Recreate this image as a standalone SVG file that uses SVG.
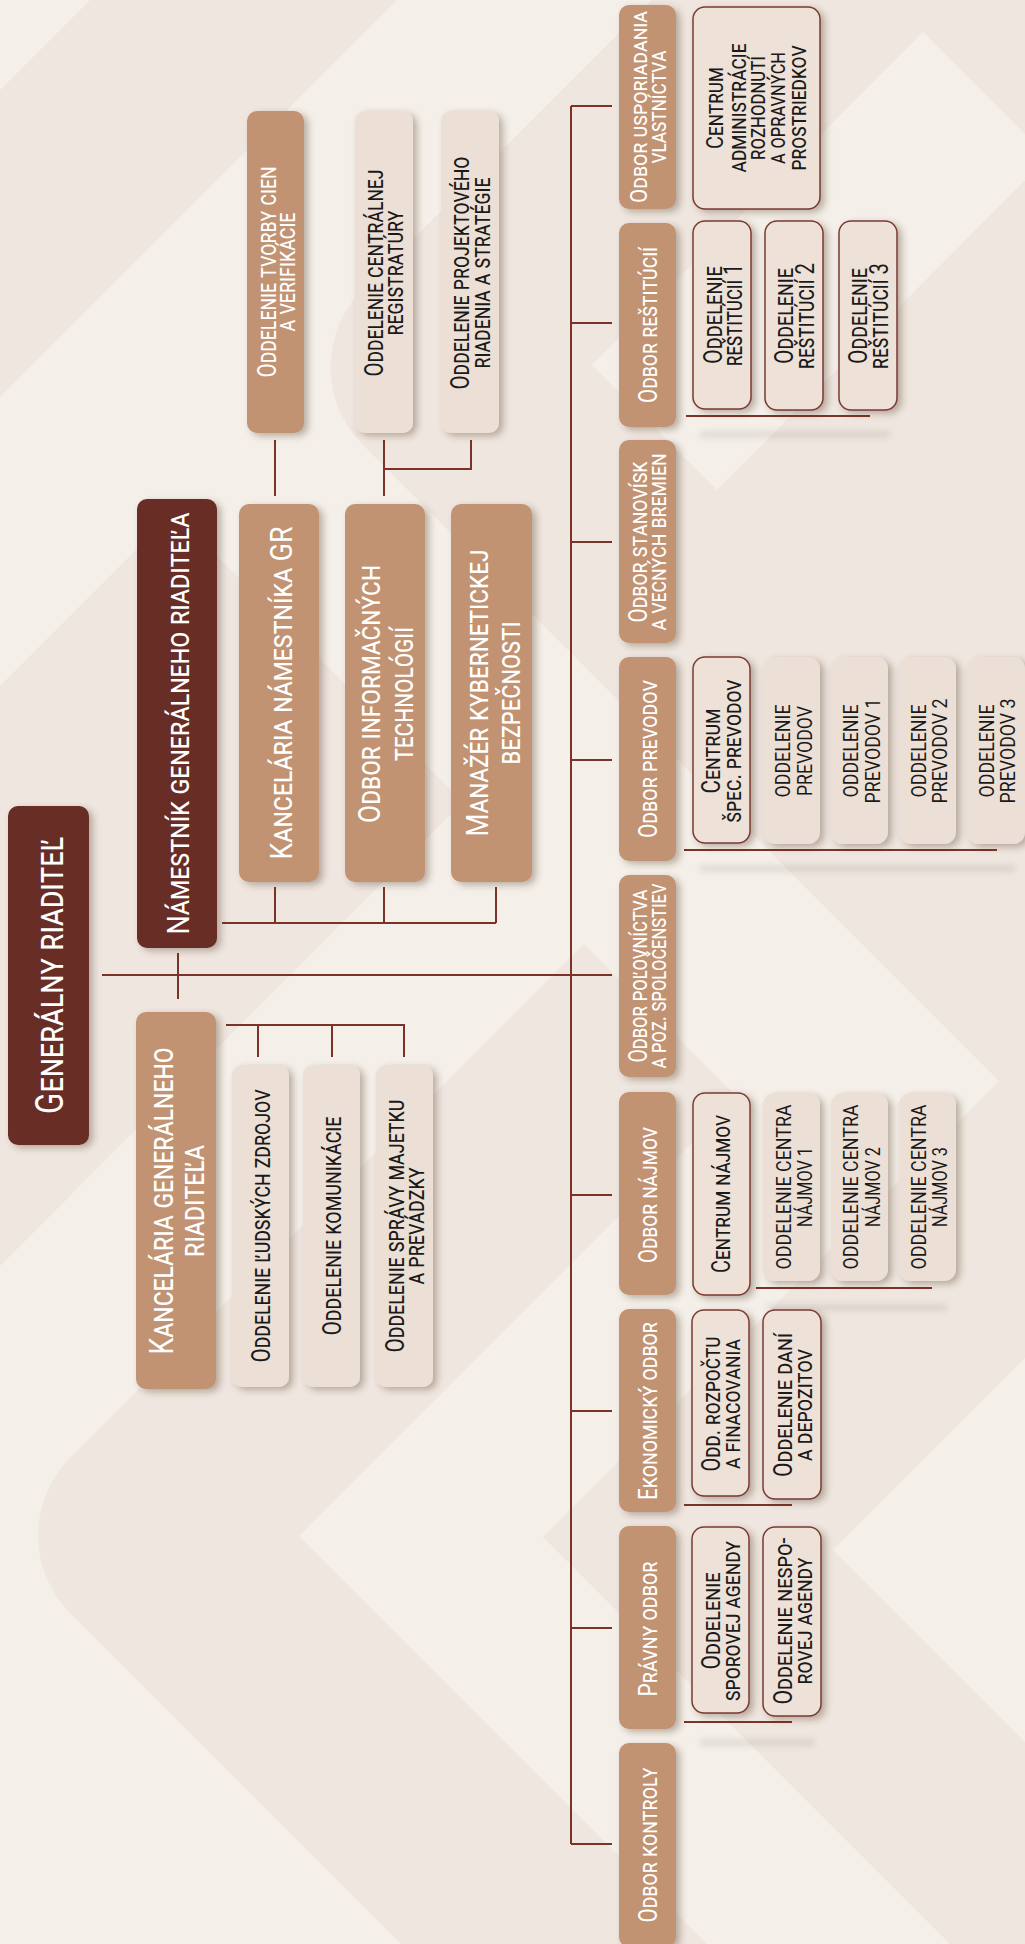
<svg xmlns="http://www.w3.org/2000/svg" width="1025" height="1944" viewBox="0 0 1025 1944">
<style>
.bgL{fill:#f4efe9}.bgD{fill:#efe6e0}
.dk{fill:#672d25}.tn{fill:#c19373}.lt{fill:#ecdfd5}.bd{fill:#ede1d8;stroke:#7b3a30;stroke-width:1.5}
.tw{fill:#fff;font-family:Roboto,"Liberation Sans",sans-serif;font-variant:small-caps;font-weight:400;text-anchor:middle}
.tk{fill:#1a1a1a;font-family:Roboto,"Liberation Sans",sans-serif;font-variant:small-caps;font-weight:400;text-anchor:middle}
.cn{fill:none;stroke:#7b3329;stroke-width:2}
.ls{fill:#3a2a20;opacity:.10}
</style>
<defs>
<filter id="sh" x="-30%" y="-20%" width="170%" height="150%">
<feDropShadow dx="4" dy="3" stdDeviation="3.5" flood-color="#4a3024" flood-opacity="0.35"/>
</filter>
<filter id="bl" x="-10%" y="-200%" width="120%" height="500%">
<feGaussianBlur stdDeviation="3"/>
</filter>
</defs>
<g id="background">
<rect class="bgL" x="0" y="0" width="1025" height="1944"/>
<polygon class="bgD" points="90,0 397,0 0,397 0,90"/>
<polygon class="bgD" points="0,686 173.5,512.5 463,802 0,1266"/>
<path class="bgD" d="M652,0 L362.8,289.2 A110 110 0 0 0 362.8,444.8 L1025,1107 L1025,0 Z"/>
<polygon class="bgL" points="592,365 923,32 1048,157 717,490"/>
<path class="bgD" d="M584,944 L70.3,1457.7 A110 110 0 0 0 70.3,1613.3 L401,1944 L707,1944 L299,1536 L737.5,1097.5 Z"/>
<polygon class="bgD" points="543,1537 1025,1055 1025,1358 833,1550 1025,1742 1025,1944 950,1944"/>
</g>
<g id="connectors">
<path class="cn" d="M275 440V496M384 440V496M471 440V469H384"/>
<path class="cn" d="M275 887V923M384 887V923M496 887V923M222 923H496"/>
<path class="cn" d="M178 953V999M102 975H612"/>
<path class="cn" d="M226 1025H404V1057M258 1025V1057M332 1025V1057"/>
<path class="cn" d="M571 106V1844M571 106H612M571 323H612M571 542H612M571 760H612M571 1195H612M571 1411H612M571 1628H612M571 1844H612"/>
<rect class="ls" x="700" y="431" width="190" height="7" filter="url(#bl)"/>
<rect class="ls" x="700" y="865" width="315" height="7" filter="url(#bl)"/>
<rect class="ls" x="767" y="1304" width="180" height="7" filter="url(#bl)"/>
<rect class="ls" x="700" y="1739" width="115" height="7" filter="url(#bl)"/>
<path class="cn" d="M686 416H870M684 850H997M756 1288H932M684 1505H792M684 1722H792"/>
</g>
<g id="n-generalny-riaditel">
<rect class="dk" x="8" y="806" width="81" height="339" rx="10" filter="url(#sh)"/>
<text class="tw" font-size="38" transform="translate(63,975.5) rotate(-90)" textLength="277" lengthAdjust="spacingAndGlyphs">Generálny riaditeľ</text>
</g>
<g id="n-namestnik">
<rect class="dk" x="137" y="499" width="80" height="449" rx="10" filter="url(#sh)"/>
<text class="tw" font-size="32" transform="translate(189,723.5) rotate(-90)" textLength="422" lengthAdjust="spacingAndGlyphs">Námestník generálneho riaditeľa</text>
</g>
<g id="n-kancelaria-namestnika">
<rect class="tn" x="239" y="504" width="80" height="378" rx="10" filter="url(#sh)"/>
<text class="tw" font-size="32" transform="translate(292,693) rotate(-90)" textLength="333" lengthAdjust="spacingAndGlyphs">Kancelária námestníka GR</text>
</g>
<g id="n-odbor-it">
<rect class="tn" x="345" y="504" width="80" height="378" rx="10" filter="url(#sh)"/>
<text class="tw" font-size="32" transform="translate(380,694) rotate(-90)" textLength="258" lengthAdjust="spacingAndGlyphs">Odbor informačných</text>
<text class="tw" font-size="32" transform="translate(413,694) rotate(-90)" textLength="134" lengthAdjust="spacingAndGlyphs">technológií</text>
</g>
<g id="n-manazer-kyber">
<rect class="tn" x="451" y="504" width="81" height="378" rx="10" filter="url(#sh)"/>
<text class="tw" font-size="32" transform="translate(488,693) rotate(-90)" textLength="287" lengthAdjust="spacingAndGlyphs">Manažér kybernetickej</text>
<text class="tw" font-size="32" transform="translate(520,693) rotate(-90)" textLength="143" lengthAdjust="spacingAndGlyphs">bezpečnosti</text>
</g>
<g id="n-kancelaria-gr">
<rect class="tn" x="136" y="1012" width="80" height="377" rx="10" filter="url(#sh)"/>
<text class="tw" font-size="33" transform="translate(173,1201) rotate(-90)" textLength="307" lengthAdjust="spacingAndGlyphs">Kancelária generálneho</text>
<text class="tw" font-size="33" transform="translate(204,1201) rotate(-90)" textLength="112" lengthAdjust="spacingAndGlyphs">riaditeľa</text>
</g>
<g id="n-odd-ludskych-zdrojov">
<rect class="lt" x="232" y="1065" width="57" height="322" rx="10" filter="url(#sh)"/>
<text class="tk" font-size="26" transform="translate(270,1226) rotate(-90)" textLength="273" lengthAdjust="spacingAndGlyphs">Oddelenie ľudských zdrojov</text>
</g>
<g id="n-odd-komunikacie">
<rect class="lt" x="303" y="1065" width="57" height="322" rx="10" filter="url(#sh)"/>
<text class="tk" font-size="26" transform="translate(341,1226) rotate(-90)" textLength="219" lengthAdjust="spacingAndGlyphs">Oddelenie komunikácie</text>
</g>
<g id="n-odd-spravy-majetku">
<rect class="lt" x="376" y="1065" width="57" height="322" rx="10" filter="url(#sh)"/>
<text class="tk" font-size="26" transform="translate(404,1226) rotate(-90)" textLength="253" lengthAdjust="spacingAndGlyphs">Oddelenie správy majetku</text>
<text class="tk" font-size="26" transform="translate(424,1226) rotate(-90)" textLength="117" lengthAdjust="spacingAndGlyphs">a prevádzky</text>
</g>
<g id="n-odd-tvorby-cien">
<rect class="tn" x="247" y="111" width="57" height="322" rx="10" filter="url(#sh)"/>
<text class="tw" font-size="26" transform="translate(276,272) rotate(-90)" textLength="211" lengthAdjust="spacingAndGlyphs">Oddelenie tvorby cien</text>
<text class="tw" font-size="26" transform="translate(295,272) rotate(-90)" textLength="119" lengthAdjust="spacingAndGlyphs">a verifikácie</text>
</g>
<g id="n-odd-centralnej-registratury">
<rect class="lt" x="355" y="111" width="58" height="322" rx="10" filter="url(#sh)"/>
<text class="tk" font-size="26" transform="translate(383,273) rotate(-90)" textLength="207" lengthAdjust="spacingAndGlyphs">Oddelenie centrálnej</text>
<text class="tk" font-size="26" transform="translate(403,273) rotate(-90)" textLength="125" lengthAdjust="spacingAndGlyphs">registratúry</text>
</g>
<g id="n-odd-projektoveho-riadenia">
<rect class="lt" x="441" y="111" width="58" height="322" rx="10" filter="url(#sh)"/>
<text class="tk" font-size="26" transform="translate(469,273) rotate(-90)" textLength="233" lengthAdjust="spacingAndGlyphs">Oddelenie projektového</text>
<text class="tk" font-size="26" transform="translate(490,273) rotate(-90)" textLength="191" lengthAdjust="spacingAndGlyphs">riadenia a stratégie</text>
</g>
<g id="n-odbor-usporiadania">
<rect class="tn" x="619" y="5" width="57" height="204" rx="10" filter="url(#sh)"/>
<text class="tw" font-size="23.5" transform="translate(647,107) rotate(-90)" textLength="192" lengthAdjust="spacingAndGlyphs">Odbor usporiadania</text>
<text class="tw" font-size="24" transform="translate(666,107) rotate(-90)" textLength="113" lengthAdjust="spacingAndGlyphs">vlastníctva</text>
</g>
<g id="n-odbor-restitucii">
<rect class="tn" x="619" y="223" width="57" height="204" rx="10" filter="url(#sh)"/>
<text class="tw" font-size="25" transform="translate(657,325) rotate(-90)" textLength="156" lengthAdjust="spacingAndGlyphs">Odbor reštitúcií</text>
</g>
<g id="n-odbor-stanovisk">
<rect class="tn" x="619" y="440" width="57" height="203" rx="10" filter="url(#sh)"/>
<text class="tw" font-size="25" transform="translate(647,542) rotate(-90)" textLength="161" lengthAdjust="spacingAndGlyphs">Odbor stanovísk</text>
<text class="tw" font-size="25" transform="translate(666,542) rotate(-90)" textLength="177" lengthAdjust="spacingAndGlyphs">a vecných bremien</text>
</g>
<g id="n-odbor-prevodov">
<rect class="tn" x="619" y="657" width="57" height="204" rx="10" filter="url(#sh)"/>
<text class="tw" font-size="25" transform="translate(657,759) rotate(-90)" textLength="158" lengthAdjust="spacingAndGlyphs">Odbor prevodov</text>
</g>
<g id="n-odbor-polovnictva">
<rect class="tn" x="619" y="875" width="57" height="202" rx="10" filter="url(#sh)"/>
<text class="tw" font-size="25" transform="translate(647,976) rotate(-90)" textLength="173" lengthAdjust="spacingAndGlyphs">Odbor poľovníctva</text>
<text class="tw" font-size="25" transform="translate(666,976) rotate(-90)" textLength="185" lengthAdjust="spacingAndGlyphs">a poz. spoločenstiev</text>
</g>
<g id="n-odbor-najmov">
<rect class="tn" x="619" y="1092" width="57" height="203" rx="10" filter="url(#sh)"/>
<text class="tw" font-size="25" transform="translate(657,1195) rotate(-90)" textLength="136" lengthAdjust="spacingAndGlyphs">Odbor nájmov</text>
</g>
<g id="n-ekonomicky-odbor">
<rect class="tn" x="619" y="1309" width="57" height="203" rx="10" filter="url(#sh)"/>
<text class="tw" font-size="25" transform="translate(657,1411) rotate(-90)" textLength="178" lengthAdjust="spacingAndGlyphs">Ekonomický odbor</text>
</g>
<g id="n-pravny-odbor">
<rect class="tn" x="619" y="1526" width="57" height="203" rx="10" filter="url(#sh)"/>
<text class="tw" font-size="25" transform="translate(657,1629) rotate(-90)" textLength="135" lengthAdjust="spacingAndGlyphs">Právny odbor</text>
</g>
<g id="n-odbor-kontroly">
<rect class="tn" x="619" y="1743" width="57" height="204" rx="10" filter="url(#sh)"/>
<text class="tw" font-size="25" transform="translate(657,1845) rotate(-90)" textLength="155" lengthAdjust="spacingAndGlyphs">Odbor kontroly</text>
</g>
<g id="n-centrum-administracie">
<rect class="bd" x="693" y="7" width="127" height="202" rx="12" filter="url(#sh)"/>
<text class="tk" font-size="24" transform="translate(723,108) rotate(-90)" textLength="82" lengthAdjust="spacingAndGlyphs">Centrum</text>
<text class="tk" font-size="24" transform="translate(746,108) rotate(-90)" textLength="129" lengthAdjust="spacingAndGlyphs">administrácie</text>
<text class="tk" font-size="24" transform="translate(765,108) rotate(-90)" textLength="104" lengthAdjust="spacingAndGlyphs">rozhodnutí</text>
<text class="tk" font-size="24" transform="translate(785,108) rotate(-90)" textLength="112" lengthAdjust="spacingAndGlyphs">a opravných</text>
<text class="tk" font-size="24" transform="translate(806,108) rotate(-90)" textLength="125" lengthAdjust="spacingAndGlyphs">prostriedkov</text>
</g>
<g id="n-odd-restitucii-1">
<rect class="bd" x="693" y="221" width="58" height="188" rx="12" filter="url(#sh)"/>
<text class="tk" font-size="26" transform="translate(722,315) rotate(-90)" textLength="98" lengthAdjust="spacingAndGlyphs">Oddelenie</text>
<text class="tk" font-size="26" transform="translate(742,315) rotate(-90)" textLength="102" lengthAdjust="spacingAndGlyphs">reštitúcií 1</text>
</g>
<g id="n-odd-restitucii-2">
<rect class="bd" x="765" y="221" width="58" height="189" rx="12" filter="url(#sh)"/>
<text class="tk" font-size="26" transform="translate(793,316) rotate(-90)" textLength="96" lengthAdjust="spacingAndGlyphs">Oddelenie</text>
<text class="tk" font-size="26" transform="translate(814,316) rotate(-90)" textLength="106" lengthAdjust="spacingAndGlyphs">reštitúcií 2</text>
</g>
<g id="n-odd-restitucii-3">
<rect class="bd" x="839" y="221" width="58" height="189" rx="12" filter="url(#sh)"/>
<text class="tk" font-size="26" transform="translate(867,316) rotate(-90)" textLength="96" lengthAdjust="spacingAndGlyphs">Oddelenie</text>
<text class="tk" font-size="26" transform="translate(888,316) rotate(-90)" textLength="106" lengthAdjust="spacingAndGlyphs">reštitúcií 3</text>
</g>
<g id="n-centrum-spec-prevodov">
<rect class="bd" x="693" y="657" width="57" height="186" rx="12" filter="url(#sh)"/>
<text class="tk" font-size="25" transform="translate(720,751) rotate(-90)" textLength="85" lengthAdjust="spacingAndGlyphs">Centrum</text>
<text class="tk" font-size="25" transform="translate(741,751) rotate(-90)" textLength="143" lengthAdjust="spacingAndGlyphs">špec. prevodov</text>
</g>
<g id="n-odd-prevodov">
<rect class="lt" x="763" y="657" width="57" height="187" rx="12" filter="url(#sh)"/>
<text class="tk" font-size="20" transform="translate(790,751) rotate(-90)" textLength="93" lengthAdjust="spacingAndGlyphs">ODDELENIE</text>
<text class="tk" font-size="20" transform="translate(812,751) rotate(-90)" textLength="90" lengthAdjust="spacingAndGlyphs">PREVODOV</text>
</g>
<g id="n-odd-prevodov-1">
<rect class="lt" x="831" y="657" width="57" height="187" rx="12" filter="url(#sh)"/>
<text class="tk" font-size="20" transform="translate(858,751) rotate(-90)" textLength="93" lengthAdjust="spacingAndGlyphs">ODDELENIE</text>
<text class="tk" font-size="20" transform="translate(880,751) rotate(-90)" textLength="105" lengthAdjust="spacingAndGlyphs">PREVODOV 1</text>
</g>
<g id="n-odd-prevodov-2">
<rect class="lt" x="899" y="657" width="57" height="187" rx="12" filter="url(#sh)"/>
<text class="tk" font-size="20" transform="translate(926,751) rotate(-90)" textLength="93" lengthAdjust="spacingAndGlyphs">ODDELENIE</text>
<text class="tk" font-size="20" transform="translate(947,751) rotate(-90)" textLength="105" lengthAdjust="spacingAndGlyphs">PREVODOV 2</text>
</g>
<g id="n-odd-prevodov-3">
<rect class="lt" x="967" y="657" width="58" height="187" rx="12" filter="url(#sh)"/>
<text class="tk" font-size="20" transform="translate(994,751) rotate(-90)" textLength="93" lengthAdjust="spacingAndGlyphs">ODDELENIE</text>
<text class="tk" font-size="20" transform="translate(1015,751) rotate(-90)" textLength="105" lengthAdjust="spacingAndGlyphs">PREVODOV 3</text>
</g>
<g id="n-centrum-najmov">
<rect class="bd" x="693" y="1093" width="57" height="202" rx="12" filter="url(#sh)"/>
<text class="tk" font-size="25" transform="translate(730,1194) rotate(-90)" textLength="158" lengthAdjust="spacingAndGlyphs">Centrum nájmov</text>
</g>
<g id="n-odd-centra-najmov-1">
<rect class="lt" x="763" y="1093" width="57" height="188" rx="12" filter="url(#sh)"/>
<text class="tk" font-size="20" transform="translate(791,1187) rotate(-90)" textLength="165" lengthAdjust="spacingAndGlyphs">ODDELENIE CENTRA</text>
<text class="tk" font-size="20" transform="translate(812,1187) rotate(-90)" textLength="80" lengthAdjust="spacingAndGlyphs">NÁJMOV 1</text>
</g>
<g id="n-odd-centra-najmov-2">
<rect class="lt" x="831" y="1093" width="57" height="188" rx="12" filter="url(#sh)"/>
<text class="tk" font-size="20" transform="translate(858,1187) rotate(-90)" textLength="165" lengthAdjust="spacingAndGlyphs">ODDELENIE CENTRA</text>
<text class="tk" font-size="20" transform="translate(880,1187) rotate(-90)" textLength="80" lengthAdjust="spacingAndGlyphs">NÁJMOV 2</text>
</g>
<g id="n-odd-centra-najmov-3">
<rect class="lt" x="899" y="1093" width="57" height="188" rx="12" filter="url(#sh)"/>
<text class="tk" font-size="20" transform="translate(926,1187) rotate(-90)" textLength="165" lengthAdjust="spacingAndGlyphs">ODDELENIE CENTRA</text>
<text class="tk" font-size="20" transform="translate(947,1187) rotate(-90)" textLength="80" lengthAdjust="spacingAndGlyphs">NÁJMOV 3</text>
</g>
<g id="n-odd-rozpoctu">
<rect class="bd" x="692" y="1310" width="57" height="186" rx="12" filter="url(#sh)"/>
<text class="tk" font-size="25" transform="translate(720,1404) rotate(-90)" textLength="135" lengthAdjust="spacingAndGlyphs">Odd. rozpočtu</text>
<text class="tk" font-size="25" transform="translate(740,1404) rotate(-90)" textLength="130" lengthAdjust="spacingAndGlyphs">a finacovania</text>
</g>
<g id="n-odd-dani">
<rect class="bd" x="763" y="1310" width="58" height="189" rx="12" filter="url(#sh)"/>
<text class="tk" font-size="25" transform="translate(792,1405) rotate(-90)" textLength="144" lengthAdjust="spacingAndGlyphs">Oddelenie daní</text>
<text class="tk" font-size="25" transform="translate(812,1405) rotate(-90)" textLength="112" lengthAdjust="spacingAndGlyphs">a depozitov</text>
</g>
<g id="n-odd-sporovej">
<rect class="bd" x="692" y="1527" width="57" height="186" rx="12" filter="url(#sh)"/>
<text class="tk" font-size="25" transform="translate(720,1621) rotate(-90)" textLength="97" lengthAdjust="spacingAndGlyphs">Oddelenie</text>
<text class="tk" font-size="25" transform="translate(740,1621) rotate(-90)" textLength="160" lengthAdjust="spacingAndGlyphs">sporovej agendy</text>
</g>
<g id="n-odd-nesporovej">
<rect class="bd" x="763" y="1527" width="58" height="189" rx="12" filter="url(#sh)"/>
<text class="tk" font-size="25" transform="translate(792,1621) rotate(-90)" textLength="167" lengthAdjust="spacingAndGlyphs">Oddelenie nespo-</text>
<text class="tk" font-size="25" transform="translate(812,1621) rotate(-90)" textLength="127" lengthAdjust="spacingAndGlyphs">rovej agendy</text>
</g>
</svg>
